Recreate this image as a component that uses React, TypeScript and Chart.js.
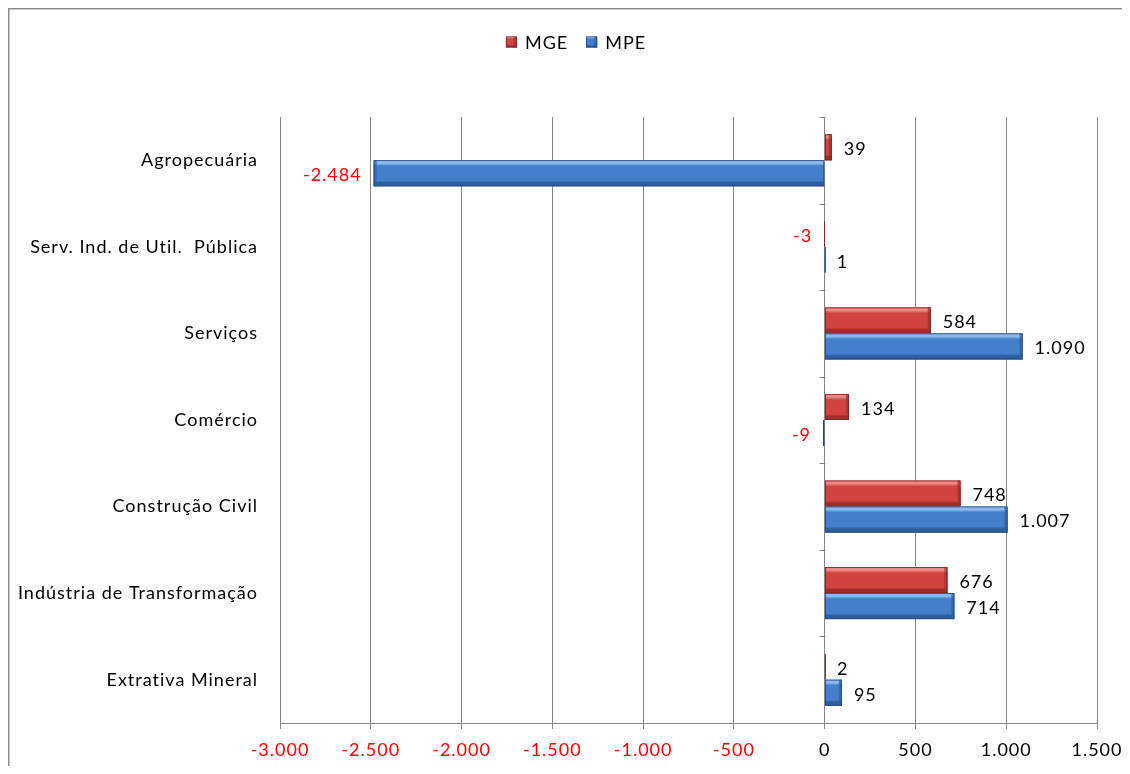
import React, { useEffect, useRef } from 'react';
import { Chart, registerables } from 'chart.js';

Chart.register(...registerables);

const categories = [
  'Agropecuária',
  'Serv. Ind. de Util.  Pública',
  'Serviços',
  'Comércio',
  'Construção Civil',
  'Indústria de Transformação',
  'Extrativa Mineral',
];
const seriesNames = ['MGE', 'MPE'];
const mgeValues = [39, -3, 584, 134, 748, 676, 2];
const mpeValues = [-2484, 1, 1090, -9, 1007, 714, 95];
const xMin = -3000;
const xMax = 1500;
const xStep = 500;

const FONT = 'Lato';
const FS = 18;
const LS = '1px';
const GRID = '#868686';

type Pal = { light: string; base: string; dark: string; edge: string };
const palettes: Pal[] = [
  { light: '#EE8783', base: '#D1433E', dark: '#9C2F2C', edge: '#7E2523' },
  { light: '#8CBAF0', base: '#437FCA', dark: '#2D5E9D', edge: '#23497C' },
];

function fmt(v: number): string {
  const s = Math.abs(v).toString().replace(/\B(?=(\d{3})+(?!\d))/g, '.');
  return (v < 0 ? '-' : '') + s;
}

function setSpacing(chart: any) {
  const ctx: any = chart.ctx;
  if (ctx && 'letterSpacing' in ctx) ctx.letterSpacing = LS;
}

function drawBar(ctx: CanvasRenderingContext2D, x0: number, x1: number, y0: number, y1: number, p: Pal, endRight: boolean) {
  const w = x1 - x0;
  const h = y1 - y0;
  if (w <= 0 || h <= 0) return;
  const g = ctx.createLinearGradient(0, y0, 0, y1);
  g.addColorStop(0, p.light);
  g.addColorStop(0.12, p.light);
  g.addColorStop(0.22, p.base);
  g.addColorStop(0.78, p.base);
  g.addColorStop(0.86, p.dark);
  g.addColorStop(1, p.dark);
  ctx.fillStyle = g;
  ctx.fillRect(x0, y0, w, h);
  const cap = Math.min(3, w);
  ctx.fillStyle = p.dark;
  ctx.globalAlpha = 0.7;
  if (endRight) ctx.fillRect(x1 - cap, y0, cap, h);
  else ctx.fillRect(x0, y0, cap, h);
  ctx.globalAlpha = 1;
  ctx.strokeStyle = p.edge;
  ctx.lineWidth = 0.8;
  ctx.strokeRect(x0 + 0.4, y0 + 0.4, Math.max(w - 0.8, 0), h - 0.8);
}

const barsPlugin = {
  id: 'bevelBars',
  beforeUpdate(chart: any) {
    setSpacing(chart);
  },
  beforeLayout(chart: any) {
    setSpacing(chart);
  },
  beforeDraw(chart: any) {
    setSpacing(chart);
  },
  afterDatasetsDraw(chart: any) {
    const ctx: CanvasRenderingContext2D = chart.ctx;
    ctx.save();
    chart.data.datasets.forEach((ds: any, di: number) => {
      const meta = chart.getDatasetMeta(di);
      meta.data.forEach((el: any, i: number) => {
        const { x, y, base, height } = el.getProps(['x', 'y', 'base', 'height'], true);
        const x0 = Math.min(x, base);
        const x1 = Math.max(x, base);
        drawBar(ctx, x0, x1, y - height / 2, y + height / 2, palettes[di], x >= base);
        const v = ds.data[i];
        ctx.font = `${FS}px ${FONT}`;
        ctx.textBaseline = 'middle';
        if (v < 0) {
          ctx.fillStyle = '#FF0000';
          ctx.textAlign = 'right';
          ctx.fillText(fmt(v), x - 12, y + 2);
        } else {
          ctx.fillStyle = '#000000';
          ctx.textAlign = 'left';
          ctx.fillText(fmt(v), x + 12, y + 2);
        }
      });
    });
    const xs = chart.scales.x;
    const ys = chart.scales.y;
    const zx = Math.round(xs.getPixelForValue(0)) + 0.5;
    const n = categories.length;
    const step = (ys.bottom - ys.top) / n;
    ctx.strokeStyle = GRID;
    ctx.lineWidth = 1;
    for (let k = 0; k < n; k++) {
      const yy = Math.round(ys.top + k * step) + 0.5;
      ctx.beginPath();
      ctx.moveTo(zx - 6, yy);
      ctx.lineTo(zx, yy);
      ctx.stroke();
    }
    ctx.restore();
  },
  afterDraw(chart: any) {
    const ctx: CanvasRenderingContext2D = chart.ctx;
    ctx.save();
    ctx.strokeStyle = '#8C8C8C';
    ctx.lineWidth = 1.5;
    ctx.strokeRect(0.75, 0.75, chart.width + 40, chart.height + 40);
    ctx.font = `${FS}px ${FONT}`;
    ctx.textBaseline = 'middle';
    ctx.textAlign = 'left';
    const box = 11;
    const gapBoxText = 8;
    const gapItems = 18;
    const widths = seriesNames.map((s) => ctx.measureText(s).width);
    const total = widths.reduce((a, w) => a + box + gapBoxText + w, 0) + gapItems * (seriesNames.length - 1);
    let lx = 568 - total / 2;
    const ly = 34;
    seriesNames.forEach((s, i) => {
      drawBar(ctx, lx, lx + box, ly - box / 2, ly + box / 2, palettes[i], true);
      ctx.fillStyle = '#000';
      ctx.fillText(s, lx + box + gapBoxText, ly + 1);
      lx += box + gapBoxText + widths[i] + gapItems;
    });
    ctx.restore();
  },
};

export default function App() {
  const ref = useRef<HTMLCanvasElement | null>(null);
  useEffect(() => {
    if (!ref.current) return;
    const chart = new Chart(ref.current, {
      type: 'bar',
      data: {
        labels: categories,
        datasets: [
          { label: seriesNames[0], data: mgeValues, backgroundColor: palettes[0].base, borderWidth: 0 },
          { label: seriesNames[1], data: mpeValues, backgroundColor: palettes[1].base, borderWidth: 0 },
        ],
      },
      options: {
        indexAxis: 'y',
        responsive: true,
        maintainAspectRatio: false,
        animation: false,
        events: [],
        datasets: { bar: { categoryPercentage: 0.6, barPercentage: 1.0 } },
        layout: { padding: { left: 0, top: 109, right: 25, bottom: 0 } },
        plugins: { legend: { display: false }, tooltip: { enabled: false }, title: { display: false } },
        scales: {
          x: {
            type: 'linear',
            min: xMin,
            max: xMax,
            ticks: {
              stepSize: xStep,
              padding: 10,
              font: { family: FONT, size: FS },
              color: (c: any) => (c.tick && c.tick.value < 0 ? '#FF0000' : '#000000'),
              callback: (v: any) => fmt(Number(v)),
              maxRotation: 0,
            },
            grid: { color: GRID, lineWidth: 1, tickLength: 6, drawTicks: true },
            border: { display: true, color: GRID, width: 1 },
            afterFit: (s: any) => {
              s.height = 43;
              s.paddingLeft = 0;
              s.paddingRight = 0;
            },
          },
          y: {
            ticks: {
              padding: 22,
              font: { family: FONT, size: FS },
              color: '#000000',
            },
            grid: { display: false, drawTicks: false },
            border: { display: false },
            afterFit: (s: any) => {
              s.width = 272;
              s.paddingTop = 0;
              s.paddingBottom = 0;
            },
          },
        },
      },
      plugins: [barsPlugin],
    });
    return () => chart.destroy();
  }, []);
  return (
    <div style={{ position: 'relative', width: 1114, height: 758 }}>
      <canvas ref={ref} />
    </div>
  );
}
